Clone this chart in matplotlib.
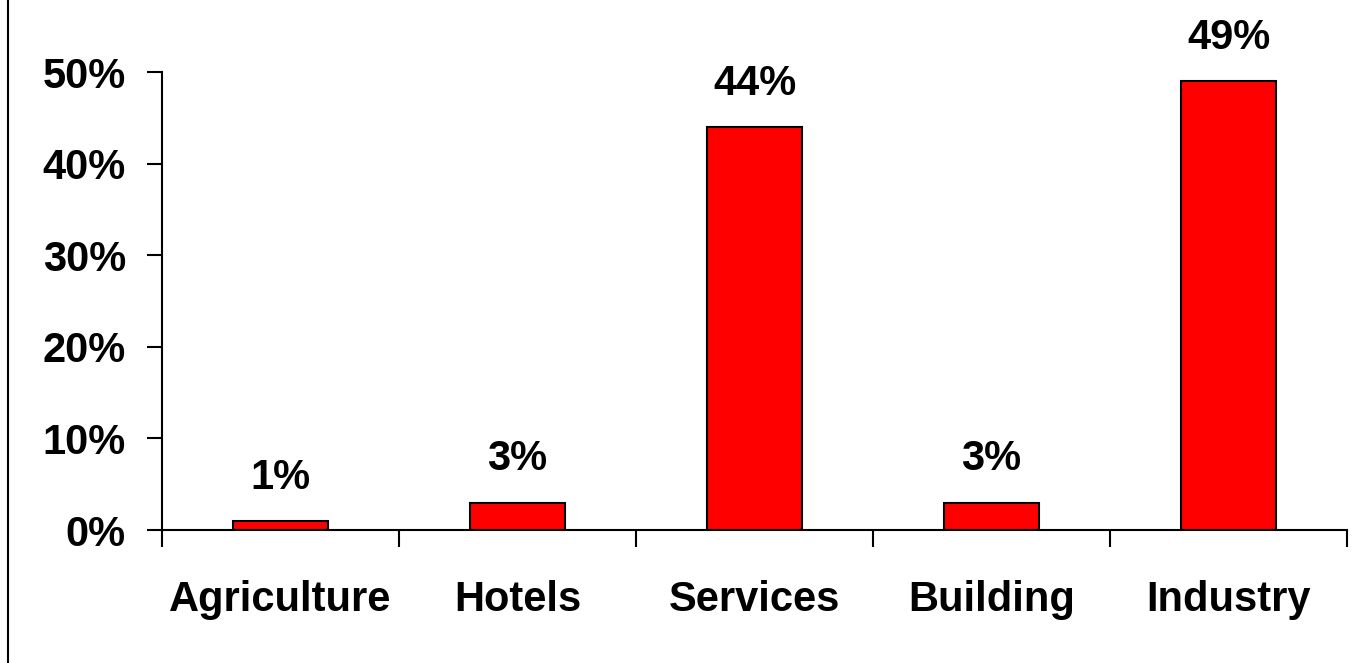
import matplotlib.pyplot as plt
from matplotlib.lines import Line2D
from matplotlib.ticker import FixedLocator, FuncFormatter

plt.rcParams['font.family'] = ['Liberation Sans', 'DejaVu Sans']
plt.rcParams['font.weight'] = 'bold'

sectors = ['Agriculture', 'Hotels', 'Services', 'Building', 'Industry']
shares = [1, 3, 44, 3, 49]
y_ticks = [0, 10, 20, 30, 40, 50]


def plot_sectors():
    fig = plt.figure(figsize=(13.56, 6.63), dpi=100)
    ax = fig.add_axes([0.1195, 0.2006, 0.8739, 0.6908])

    xs = list(range(len(sectors)))
    ax.bar(xs, shares, width=0.4, color='#ff0000', edgecolor='black', linewidth=1.5)

    # value labels above bars
    for x, v in zip(xs, shares):
        ax.annotate(f"{v}%", (x, v), xytext=(0, 31), textcoords='offset points',
                    ha='center', va='center', fontsize=30, fontweight='bold',
                    annotation_clip=False)

    ax.set_xlim(-0.5, len(sectors) - 0.5)
    ax.set_ylim(0, 50)

    ax.spines['top'].set_visible(False)
    ax.spines['right'].set_visible(False)
    for s in ('left', 'bottom'):
        ax.spines[s].set_linewidth(1.5)

    ax.yaxis.set_major_locator(FixedLocator(y_ticks))
    ax.yaxis.set_major_formatter(FuncFormatter(lambda v, p: f"{int(v)}%"))
    ax.tick_params(axis='y', length=11, width=1.5, pad=15, labelsize=30)

    # x ticks sit on the category boundaries, labels in the middle
    ax.set_xticks([i - 0.5 for i in range(len(sectors) + 1)])
    ax.set_xticklabels([])
    ax.set_xticks(xs, minor=True)
    ax.set_xticklabels(sectors, minor=True, fontsize=30, fontweight='bold')
    ax.tick_params(axis='x', which='major', length=12, width=1.5)
    ax.tick_params(axis='x', which='minor', length=0, pad=36)

    # frame line on the left edge of the picture
    fig.add_artist(Line2D([0.006, 0.006], [0, 1], color='black', linewidth=1.5,
                          transform=fig.transFigure))

    fig.savefig("out.png", dpi=100)


if __name__ == "__main__":
    plot_sectors()
